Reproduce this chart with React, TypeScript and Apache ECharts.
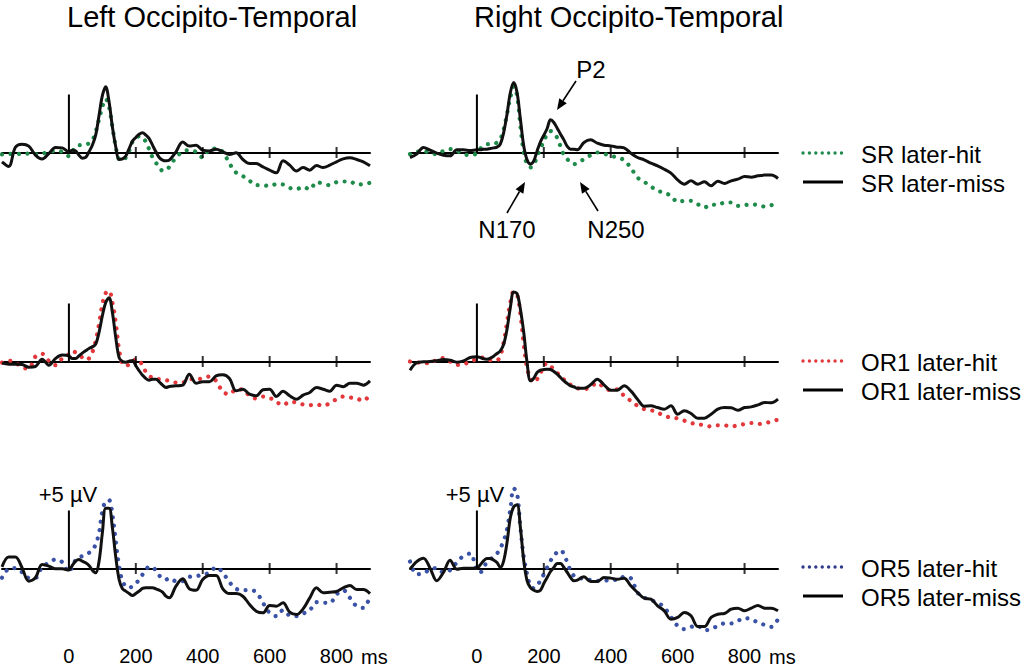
import React, { useEffect, useRef } from "react";
import * as echarts from "echarts";

// ---------- data (time in ms, amplitude in µV) ----------
const TIME_MS = [
  -200, -180, -160, -140, -120, -100, -80, -60, -40, -20, 0,
  10, 20, 30, 40, 50, 60, 70, 80, 90, 100, 110, 120, 130, 140, 150, 160, 170, 180, 190, 200,
  210, 220, 230, 240, 250, 260, 270, 280, 290, 300,
  320, 340, 360, 380, 400, 420, 440, 460, 480, 500, 520, 540, 560, 580, 600, 620, 640, 660, 680, 700,
  720, 740, 760, 780, 800, 820, 840, 860, 880, 900,
];

const SR_LEFT_HIT = [
  -0.17, -0.14, -0.09, -0.14, -0.09, -0.14, -0.09, 0.03, 0.14, 0.06, -0.32,
  0.06, 0.49, 0.63, 0.63, 0.72, 0.78, 1.06, 1.78, 2.85, 3.94, 4.63, 3.94, 2.2, 0.5, -0.6, -0.66, -0.43, 0.14, 0.92, 1.2,
  1.4, 1.3, 0.92, 0.26, -0.43, -0.89, -1.18, -1.58, -1.52, -1.24,
  -0.43, 0.06, 0.2, 0.06, -0.43, 0.26, 0.34, 0.06, -0.95, -1.75, -2.04, -2.44, -2.82, -2.82, -2.9, -2.73, -2.76, -3.05, -3.16, -2.96,
  -3.19, -2.56, -2.67, -2.82, -2.56, -2.5, -2.5, -2.76, -2.73, -2.61,
];
const SR_LEFT_MISS = [
  -0.8, -1.2, 0.45, 0.72, 0.55, -0.23, -0.57, -0.09, 0.43, 0.4, 0.06,
  0.2, 0.14, -0.23, -0.49, -0.43, 0.06, 0.63, 1.5, 3.2, 4.9, 5.66, 4.37, 2.2, 0.5, -0.6, -0.55, -0.3, 0.34, 0.98, 1.3,
  1.58, 1.7, 1.5, 1.2, 0.63, 0.06, -0.43, -0.66, -0.72, -0.66,
  0.06, 0.9, 0.55, 0.63, 0.2, 0.14, 0.29, 0.06, -0.17, -0.03, -0.6, -0.95, -0.95, -1.24, -1.52, -1.75, -0.72, -1.09, -1.6, -1.3,
  -1.52, -1.12, -1.3, -1.09, -0.8, -0.55, -0.46, -0.6, -0.8, -1.15,
];
const SR_RIGHT_HIT = [
  -0.14, 0.06, 0.14, -0.06, -0.14, 0.14, 0.29, 0.14, -0.14, -0.23, -0.06,
  0.34, 0.57, 0.72, 0.72, 0.72, 0.86, 1.15, 2.01, 3.3, 4.74, 5.69, 4.89, 2.3, 0, -1.0, -1.29, -1.09, -0.29, 0.34, 1.0,
  1.58, 1.84, 1.67, 1.26, 0.52, -0.23, -0.57, -0.86, -1.0, -0.92,
  -0.57, -0.23, 0, -0.11, -0.29, -0.43, -0.66, -1.32, -2.16, -2.53, -2.93, -3.3, -3.45, -3.74, -4.25, -4.17, -4.17, -4.46, -4.74, -4.48,
  -4.54, -4.31, -4.31, -4.6, -4.54, -4.46, -4.54, -4.66, -4.54, -4.46,
];
const SR_RIGHT_MISS = [
  -0.43, -0.14, 0.43, 0.2, -0.06, -0.23, -0.29, 0.23, 0.23, 0.17, 0.23,
  0.23, 0.29, 0.29, 0.34, 0.4, 0.46, 0.72, 1.72, 3.3, 5.17, 6.03, 5.17, 2.87, 0.57, -0.63, -1.0, -0.72, 0.14, 0.92, 1.49,
  2.07, 2.82, 2.59, 2.1, 1.58, 1.09, 0.52, 0.29, 0.29, 0.23,
  0.86, 1.09, 0.8, 0.63, 0.57, 0.46, 0.4, -0.06, -0.43, -0.63, -0.92, -1.15, -1.44, -1.78, -2.36, -2.73, -2.44, -2.73, -2.53, -2.87,
  -2.47, -2.67, -2.44, -2.3, -2.07, -2.13, -2.01, -1.95, -1.95, -2.24,
];
const OR1_LEFT_HIT = [
  -0.09, 0.06, -0.09, -0.52, -0.6, 0.43, 0.66, 0.06, -0.32, 0.26, 0.63,
  0.92, 0.78, 0.63, 0.34, 0.14, 0.26, 0.78, 1.78, 3.22, 4.94, 5.9, 6.1, 5.09, 3.36, 1.06, -0.23, -0.37, -0.26, -0.09, 0.2,
  0.11, -0.37, -0.89, -1.24, -1.41, -1.52, -1.52, -1.58, -1.61, -1.67,
  -1.81, -1.81, -1.52, -1.52, -1.47, -1.29, -1.67, -2.61, -2.82, -2.39, -2.44, -2.96, -3.19, -3.02, -3.13, -3.48, -3.76, -3.48, -3.53, -3.7,
  -3.76, -3.7, -3.82, -3.59, -3.25, -3.02, -3.1, -3.19, -3.39, -2.82,
];
const OR1_LEFT_MISS = [
  -0.14, -0.23, -0.23, -0.26, -0.49, -0.43, 0.2, -0.32, 0.26, 0.55, 0.49,
  0.26, 0.26, 0.49, 0.72, 0.92, 1.12, 1.26, 1.49, 2.5, 3.94, 5.09, 5.49, 4.22, 2.07, 0.34, 0, -0.06, 0.03, 0.09, -0.37,
  -0.8, -1.18, -1.47, -1.61, -1.52, -1.52, -1.75, -2.04, -2.24, -2.16,
  -2.1, -2.04, -1.09, -1.87, -1.75, -1.75, -1.24, -1.15, -1.47, -2.53, -2.39, -2.82, -2.96, -2.44, -2.39, -3.02, -2.56, -2.96, -3.25, -2.9,
  -2.67, -2.24, -2.39, -2.56, -2.04, -2.18, -1.87, -1.87, -2.04, -1.67,
];
const OR1_RIGHT_HIT = [
  0, -0.09, -0.11, -0.17, 0.17, 0.29, 0, -0.29, -0.23, 0, 0.2,
  0.29, 0.34, 0.17, 0.11, 0.11, 0.11, 0.49, 1.64, 3.36, 5.09, 6.03, 5.8, 4.08, 1.49, -0.57, -1.44, -1.81, -1.52, -1.03, -0.37,
  -0.14, -0.4, -0.66, -0.98, -1.24, -1.55, -1.81, -2.01, -2.18, -2.3,
  -2.39, -2.18, -1.84, -2.24, -2.47, -2.39, -2.96, -3.39, -3.82, -4.11, -4.2, -4.4, -4.68, -4.83, -4.91, -5.1, -5.3, -5.4, -5.5, -5.6,
  -5.5, -5.5, -5.6, -5.5, -5.4, -5.3, -5.4, -5.3, -5.2, -5.0,
];
const OR1_RIGHT_MISS = [
  -0.75, -0.11, -0.03, 0, 0.06, 0.17, 0.11, -0.06, 0.06, 0.34, 0.4,
  0.34, 0.23, 0.2, 0.29, 0.46, 0.69, 0.92, 1.49, 2.79, 4.66, 6.0, 5.85, 4.51, 2.5, -0.09, -1.67, -1.44, -0.95, -0.75, -0.69,
  -0.66, -0.69, -0.86, -1.09, -1.38, -1.67, -1.9, -2.1, -2.18, -2.3,
  -2.3, -2.01, -1.52, -2.01, -2.47, -2.47, -2.1, -2.53, -3.25, -3.85, -3.82, -3.97, -4.11, -3.82, -4.54, -4.25, -4.48, -4.89, -4.89, -4.54,
  -4.11, -3.97, -3.99, -4.2, -3.97, -3.91, -3.74, -3.53, -3.56, -3.25,
];
const OR5_LEFT_HIT = [
  -0.8, -0.03, 0.03, -0.32, -0.8, -0.8, 0.14, 0.49, 0.78, 0.55, -0.32,
  0.2, 0.72, 0.98, 1.06, 1.18, 1.35, 1.58, 2.07, 3.07, 4.94, 5.8, 5.89, 4.66, 2.36, 0.2, -1.09, -1.52, -1.67, -1.52, -1.29,
  -0.95, -0.52, -0.09, 0.14, 0.14, -0.23, -0.6, -0.89, -0.95, -0.83,
  -1.09, -1.09, -0.72, -0.66, -0.52, -0.37, 0.11, -0.37, -1.18, -1.75, -1.87, -1.87, -2.04, -2.96, -3.82, -4.11, -3.59, -4.05, -4.11, -3.88,
  -3.59, -2.9, -2.96, -2.96, -2.24, -1.87, -2.53, -3.25, -3.39, -2.39,
];
const OR5_LEFT_MISS = [
  0.14, 1.0, 1.0, 0.06, -1.09, -0.8, 0.34, 0.2, -0.03, -0.03, -0.14,
  0.26, 0.63, 0.78, 0.63, 0.49, 0.26, -0.14, -0.37, 0.6, 3.07, 5.2, 5.2, 3.5, 1.0, -0.95, -1.75, -1.95, -2.16, -2.33, -2.16,
  -1.95, -1.72, -1.67, -1.67, -1.67, -1.75, -1.87, -2.04, -2.39, -2.53,
  -1.52, -0.89, -1.75, -1.87, -0.95, -0.6, -0.6, -1.75, -2.16, -2.16, -2.39, -3.1, -3.68, -3.82, -3.19, -3.25, -2.96, -3.76, -3.97, -3.48,
  -2.53, -1.67, -2.1, -2.04, -1.98, -1.67, -1.47, -1.81, -1.81, -2.16,
];
const OR5_RIGHT_HIT = [
  0.6, -0.49, -0.43, -0.06, 0.03, -0.34, -0.14, 0.52, 1.09, 1.29, -0.2,
  -0.34, 0.14, 0.52, 0.8, 1.0, 1.29, 1.75, 2.39, 3.39, 5.11, 6.9, 6.5, 3.53, 1.0, -0.49, -1.49, -1.7, -1.41, -1.06, -0.49,
  0.09, 0.66, 1.09, 1.41, 1.58, 1.24, 0.52, -0.2, -0.63, -0.78,
  -0.89, -1.0, -1.06, -1.06, -0.95, -1.0, -0.72, -0.83, -2.07, -2.5, -2.73, -2.93, -3.36, -4.17, -4.94, -5.23, -5.03, -4.94, -5.32, -5.23,
  -4.94, -4.74, -4.74, -4.51, -4.28, -4.37, -4.66, -4.86, -5.03, -4.37,
];
const OR5_RIGHT_MISS = [
  -0.06, 0.6, 0.89, 0.03, -1.06, -0.34, 0.72, -0.06, 0.03, 0.03, 0.03,
  0.32, 0.66, 0.86, 0.86, 0.72, 0.52, 0.09, 0.66, 2.24, 4.4, 5.32, 5.49, 3.53, 0.66, -1.06, -1.64, -1.87, -1.98, -1.87, -1.29,
  -0.78, -0.26, 0.09, 0.43, 0.43, 0.09, -0.34, -0.78, -1.06, -1.0,
  -0.72, -1.12, -1.12, -0.78, -0.83, -0.92, -0.83, -1.49, -2.07, -2.56, -2.64, -3.22, -3.65, -4.37, -4.22, -3.79, -4.08, -5.0, -5.0, -4.22,
  -3.94, -3.88, -3.51, -3.42, -3.65, -3.42, -3.19, -3.42, -3.42, -3.65,
];

const X_TICKS = [200, 400, 600, 800];
const X_LABELS = [0, 200, 400, 600, 800];
const SCALE_BAR_UV = 5;
const PANEL_TITLES = ["Left Occipito-Temporal", "Right Occipito-Temporal"];
const ROW_LEGENDS = [
  ["SR later-hit", "SR later-miss"],
  ["OR1 later-hit", "OR1 later-miss"],
  ["OR5 later-hit", "OR5 later-miss"],
];
const HIT_COLORS = ["#1e8b4b", "#e2383c", "#3a52a6"];
const LEGEND_DOT_COLORS = ["#1e8b4b", "#e2383c", "#2e3a8c"];
const PEAK_LABELS = ["P2", "N170", "N250"];
const SCALE_LABEL = "+5 µV";
const UNIT_LABEL = "ms";

const PANELS = [
  { row: 0, col: 0, hit: SR_LEFT_HIT, miss: SR_LEFT_MISS },
  { row: 0, col: 1, hit: SR_RIGHT_HIT, miss: SR_RIGHT_MISS },
  { row: 1, col: 0, hit: OR1_LEFT_HIT, miss: OR1_LEFT_MISS },
  { row: 1, col: 1, hit: OR1_RIGHT_HIT, miss: OR1_RIGHT_MISS },
  { row: 2, col: 0, hit: OR5_LEFT_HIT, miss: OR5_LEFT_MISS },
  { row: 2, col: 1, hit: OR5_RIGHT_HIT, miss: OR5_RIGHT_MISS },
];

// ---------- layout ----------
const FONT = '"Liberation Sans", Arial, Helvetica, sans-serif';
const COL_LEFT = [2, 410];
const GRID_W = 368;
const ROW_ZERO = [152.5, 361.5, 568.5];
const PX_PER_UV = 11.6;
const Y_MIN = -6;
const Y_MAX = 8;

function txt(text: string, x: number, y: number, size: number, align = "left") {
  return {
    type: "text",
    silent: true,
    style: {
      text,
      x,
      y,
      fill: "#000",
      fontSize: size,
      fontFamily: FONT,
      align,
      verticalAlign: "middle",
      textAlign: align,
      textVerticalAlign: "middle",
    },
  };
}

function arrow(x1: number, y1: number, x2: number, y2: number) {
  const ang = Math.atan2(y2 - y1, x2 - x1);
  const L = 11;
  const W = 4.5;
  const bx = x2 - L * Math.cos(ang);
  const by = y2 - L * Math.sin(ang);
  const px = -Math.sin(ang) * W;
  const py = Math.cos(ang) * W;
  return [
    { type: "line", silent: true, shape: { x1, y1, x2: bx, y2: by }, style: { stroke: "#000", lineWidth: 1.6 } },
    {
      type: "polygon",
      silent: true,
      shape: { points: [[x2, y2], [bx + px, by + py], [bx - px, by - py]] },
      style: { fill: "#000" },
    },
  ];
}

function buildOption() {
  const grid: any[] = [];
  const xAxis: any[] = [];
  const yAxis: any[] = [];
  const series: any[] = [];

  PANELS.forEach((p, i) => {
    grid.push({
      left: COL_LEFT[p.col],
      top: ROW_ZERO[p.row] - Y_MAX * PX_PER_UV,
      width: GRID_W,
      height: (Y_MAX - Y_MIN) * PX_PER_UV,
      containLabel: false,
      outerBoundsMode: "none",
    });
    const xIndex = xAxis.length;
    xAxis.push({
      gridIndex: i,
      type: "value",
      min: -200,
      max: 900,
      interval: 200,
      position: "bottom",
      axisLine: { show: true, onZero: true, lineStyle: { color: "#000", width: 2 } },
      axisTick: { show: false },
      splitLine: { show: false },
      axisLabel: { show: false },
    });
    if (p.row === 2) {
      // tick labels shown below the bottom panels
      xAxis.push({
        gridIndex: i,
        type: "value",
        min: -200,
        max: 900,
        interval: 200,
        position: "bottom",
        axisLine: { show: false, onZero: false },
        axisTick: { show: false },
        splitLine: { show: false },
        axisLabel: {
          show: true,
          margin: 8,
          fontSize: 20,
          fontFamily: FONT,
          color: "#000",
          showMinLabel: true,
          showMaxLabel: true,
          formatter: (v: number) => (X_LABELS.indexOf(v) >= 0 ? String(v) : ""),
        },
      });
    }
    yAxis.push({ gridIndex: i, type: "value", min: Y_MIN, max: Y_MAX, show: false });

    const hitData = TIME_MS.map((t, k) => [t, p.hit[k]]);
    const missData = TIME_MS.map((t, k) => [t, p.miss[k]]);
    series.push({
      type: "line",
      name: ROW_LEGENDS[p.row][0],
      xAxisIndex: xIndex,
      yAxisIndex: i,
      data: hitData,
      smooth: 0.35,
      symbol: "none",
      silent: true,
      z: 2,
      lineStyle: { color: HIT_COLORS[p.row], width: 4.2, type: [0.01, 8.5], cap: "round" },
    });
    series.push({
      type: "line",
      name: ROW_LEGENDS[p.row][1],
      xAxisIndex: xIndex,
      yAxisIndex: i,
      data: missData,
      smooth: 0.35,
      symbol: "none",
      silent: true,
      z: 3,
      lineStyle: { color: "#111", width: 3 },
    });
    series.push({
      type: "line",
      xAxisIndex: xIndex,
      yAxisIndex: i,
      data: [[0, 0], [0, SCALE_BAR_UV]],
      symbol: "none",
      silent: true,
      z: 4,
      lineStyle: { color: "#000", width: 2 },
    });
    series.push({
      type: "scatter",
      xAxisIndex: xIndex,
      yAxisIndex: i,
      data: X_TICKS.map((t) => [t, 0]),
      symbol: "rect",
      symbolSize: [2, 11],
      silent: true,
      z: 4,
      itemStyle: { color: "#000" },
    });
  });

  const graphic: any[] = [];
  graphic.push(txt(PANEL_TITLES[0], 67, 17, 29));
  graphic.push(txt(PANEL_TITLES[1], 474, 17, 29));

  const legDotY = [153, 361, 567];
  const legLineY = [182, 390, 596];
  ROW_LEGENDS.forEach((labels, r) => {
    graphic.push({
      type: "line",
      silent: true,
      shape: { x1: 803, y1: legDotY[r], x2: 843, y2: legDotY[r] },
      style: { stroke: LEGEND_DOT_COLORS[r], lineWidth: 3.4, lineDash: [0.01, 6.4], lineCap: "round" },
    });
    graphic.push({
      type: "line",
      silent: true,
      shape: { x1: 803, y1: legLineY[r], x2: 843, y2: legLineY[r] },
      style: { stroke: "#000", lineWidth: 3 },
    });
    graphic.push(txt(labels[0], 861, legDotY[r] + 1, 24));
    graphic.push(txt(labels[1], 861, legLineY[r] + 1, 24));
  });

  // peak annotations (right SR panel)
  graphic.push(txt(PEAK_LABELS[0], 591, 69, 24, "center"));
  graphic.push(txt(PEAK_LABELS[1], 507, 229, 24, "center"));
  graphic.push(txt(PEAK_LABELS[2], 616, 229, 24, "center"));
  graphic.push(...arrow(576, 81, 557, 110));
  graphic.push(...arrow(507, 213, 525, 182));
  graphic.push(...arrow(598, 211, 580, 182));

  // scale labels & unit
  graphic.push(txt(SCALE_LABEL, 68, 494, 22, "center"));
  graphic.push(txt(SCALE_LABEL, 475, 494, 22, "center"));
  graphic.push(txt(UNIT_LABEL, 361, 657, 20));
  graphic.push(txt(UNIT_LABEL, 769, 657, 20));

  return {
    animation: false,
    backgroundColor: "#fff",
    grid,
    xAxis,
    yAxis,
    series,
    graphic,
  };
}

export default function App() {
  const ref = useRef<HTMLDivElement>(null);
  useEffect(() => {
    document.body.style.margin = "0";
    if (!ref.current) return;
    const chart = echarts.init(ref.current, undefined, { renderer: "svg" });
    chart.setOption(buildOption() as any);
    return () => chart.dispose();
  }, []);
  return <div ref={ref} style={{ width: 1026, height: 672 }} />;
}
